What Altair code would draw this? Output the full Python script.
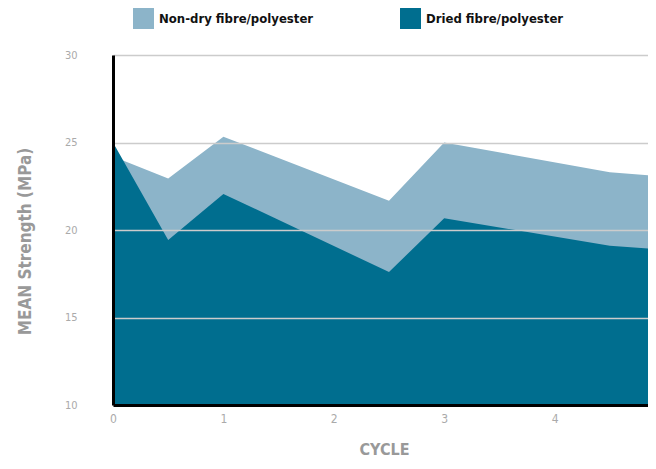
import altair as alt
import pandas as pd

# Data
cycle_nondry = [0, 0.5, 1, 2.5, 3, 4.5, 5]
strength_nondry = [24.2, 22.95, 25.33, 21.67, 25.0, 23.3, 23.05]
cycle_dried = [0, 0.5, 1, 2.5, 3, 4.5, 5]
strength_dried = [25.0, 19.43, 22.06, 17.6, 20.67, 19.1, 18.88]
series_names = ["Non-dry fibre/polyester", "Dried fibre/polyester"]
series_colors = ["#8cb4c9", "#006e8f"]

df = pd.concat([
    pd.DataFrame({"cycle": cycle_nondry, "strength": strength_nondry, "series": series_names[0]}),
    pd.DataFrame({"cycle": cycle_dried, "strength": strength_dried, "series": series_names[1]}),
])

FONT = "DejaVu Sans Condensed, Liberation Sans Narrow, Roboto"

color = alt.Color(
    "series:N",
    scale=alt.Scale(domain=series_names, range=series_colors),
    legend=alt.Legend(
        title=None,
        orient="none",
        legendX=20,
        legendY=-47,
        direction="horizontal",
        symbolType="square",
        symbolSize=440,
        symbolStrokeWidth=0,
        symbolOpacity=1,
        labelFont=FONT,
        labelFontSize=13,
        labelFontWeight="bold",
        labelColor="#111111",
        labelOffset=5,
        columnPadding=86,
        labelLimit=300,
    ),
)

x = alt.X(
    "cycle:Q",
    scale=alt.Scale(domain=[0, 4.846], nice=False, zero=False),
    axis=alt.Axis(
        title="CYCLE",
        titleX=271,
        values=[0, 1, 2, 3, 4],
        grid=False,
        ticks=False,
        labelFlush=False,
        domainColor="#000000",
        domainWidth=3,
        labelFont=FONT,
        labelFontSize=12,
        labelColor="#aaaaaa",
        labelPadding=8,
        titleFont=FONT,
        titleFontSize=16,
        titleFontWeight="bold",
        titleColor="#999999",
        titlePadding=17,
        zindex=1,
    ),
)

y = alt.Y(
    "strength:Q",
    scale=alt.Scale(domain=[10, 30], nice=False, zero=False),
    axis=alt.Axis(
        title="MEAN Strength (MPa)",
        titleY=186,
        values=[10, 15, 20, 25, 30],
        grid=True,
        gridColor="#cccccc",
        gridWidth=1.5,
        ticks=False,
        domainColor="#000000",
        domainWidth=3,
        labelFont=FONT,
        labelFontSize=11,
        labelColor="#aaaaaa",
        labelPadding=36,
        titleFont=FONT,
        titleFontSize=17,
        titleFontWeight="bold",
        titleColor="#999999",
        titlePadding=30,
        zindex=1,
    ),
)

base = alt.Chart(df)
light = base.transform_filter(alt.datum.series == series_names[0]).mark_area(
    clip=True, opacity=1, interpolate="linear"
).encode(x=x, y=y, color=color)
dark = base.transform_filter(alt.datum.series == series_names[1]).mark_area(
    clip=True, opacity=1, interpolate="linear"
).encode(x=x, y=y, color=color)

chart = alt.layer(light, dark).properties(
    width=535,
    height=350,
    autosize=alt.AutoSizeParams(type="none"),
    padding={"left": 105, "top": 47, "right": 0, "bottom": 54},
).configure_view(stroke=None).configure(background="white")

chart.save("out.html", embed_options={"renderer": "svg", "actions": False})
